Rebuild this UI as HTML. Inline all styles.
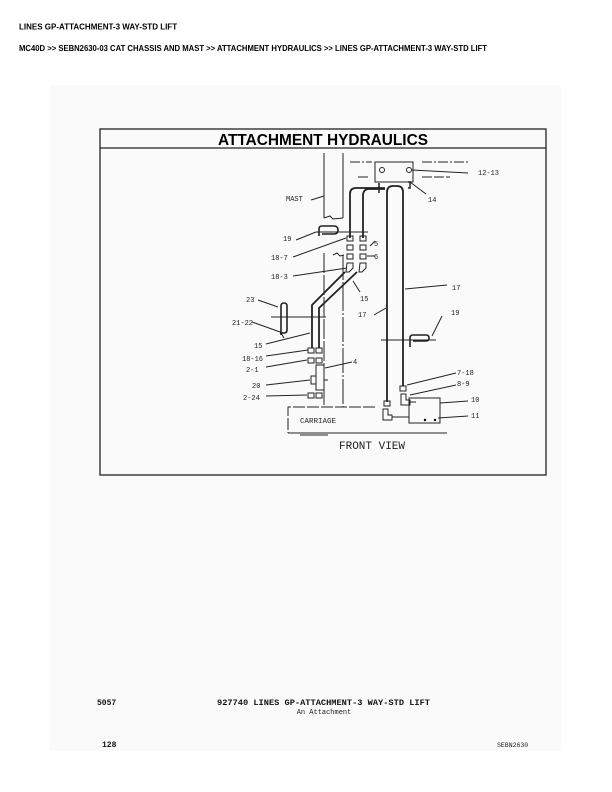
<!DOCTYPE html>
<html><head><meta charset="utf-8"><style>
html,body{margin:0;padding:0;background:#fff;width:612px;height:792px;overflow:hidden}
svg{display:block}
</style></head><body>
<svg width="612" height="792" viewBox="0 0 612 792" xmlns="http://www.w3.org/2000/svg">
<g font-family="Liberation Sans, Arial, sans-serif" font-weight="bold" font-size="8" fill="#000">
<text x="19" y="29.5">LINES GP-ATTACHMENT-3 WAY-STD LIFT</text>
<text x="19" y="51" textLength="468" lengthAdjust="spacingAndGlyphs">MC40D &gt;&gt; SEBN2630-03 CAT CHASSIS AND MAST &gt;&gt; ATTACHMENT HYDRAULICS &gt;&gt; LINES GP-ATTACHMENT-3 WAY-STD LIFT</text>
</g>
<rect x="50" y="85" width="511" height="666" fill="#fafafa"/>
<g fill="none" stroke="#222" stroke-width="1.3">
<rect x="100" y="129" width="446" height="346"/>
<line x1="100" y1="148" x2="546" y2="148"/>
</g>
<text x="323" y="145" font-family="Liberation Sans, Arial, sans-serif" font-weight="bold" font-size="16" text-anchor="middle" textLength="210" lengthAdjust="spacingAndGlyphs">ATTACHMENT HYDRAULICS</text>
<g fill="none" stroke="#222" stroke-width="1">
<!-- mast -->
<line x1="324" y1="153" x2="324" y2="218"/><line x1="343" y1="153" x2="343" y2="218"/>
<path d="M324 218 l6 -2 l3 3 l10 -1"/>
<line x1="324" y1="253" x2="324" y2="407" stroke-dasharray="20 2"/><line x1="343" y1="255" x2="343" y2="407" stroke-dasharray="25 2 2 2"/>
<path d="M333 255 l4 -2 l3 3 l4 -1"/>
<line x1="350" y1="162" x2="372" y2="162" stroke-dasharray="10 2 2 2"/>
<line x1="422" y1="162" x2="470" y2="162" stroke-dasharray="10 2 2 2"/>
<line x1="358" y1="177" x2="368" y2="177"/><line x1="422" y1="177" x2="450" y2="177" stroke-dasharray="10 2"/>
<!-- bracket -->
<rect x="375" y="162" width="38" height="20"/>
<circle cx="382" cy="170" r="2.5"/><circle cx="409" cy="170" r="2.5"/>
<line x1="412" y1="170" x2="468" y2="173"/>
<line x1="410" y1="182" x2="426" y2="194"/>
<path d="M408 182 l2 0 l0 6 l-2 0" stroke-width="1.5"/>
<!-- hoses -->
<g stroke-width="1.8">
<path d="M350 238 V194 Q350 188 356 188 H385"/>
<path d="M363 238 V196 Q363 189 369 189 H385"/>
<path d="M387 402 V192 Q387 186 393 186 H397 Q403 186 403 192 V386"/>
<path d="M345 272 L312 305 V348"/>
<path d="M357 272 L319 308 V348"/>
</g>
<line x1="379" y1="183" x2="379" y2="193" stroke-width="1.5"/>
<!-- fittings -->
<rect x="347" y="236" width="6" height="5"/><rect x="360" y="236" width="6" height="5"/>
<rect x="347" y="245" width="6" height="5"/><rect x="360" y="245" width="6" height="5"/>
<rect x="347" y="254" width="6" height="5"/><rect x="360" y="254" width="6" height="5"/>
<path d="M347 263 h6 v5 l-4 4 h-3 z"/><path d="M360 263 h6 v5 l-4 4 h-3 z"/>
<rect x="308" y="348" width="6" height="5"/><rect x="316" y="348" width="6" height="5"/>
<rect x="308" y="358" width="6" height="5"/><rect x="316" y="358" width="6" height="5"/>
<rect x="316" y="365" width="8" height="25"/>
<rect x="311" y="376" width="5" height="8"/><line x1="324" y1="380" x2="328" y2="380"/>
<rect x="308" y="393" width="6" height="5"/><rect x="316" y="393" width="6" height="5"/>
<!-- clips -->
<line x1="316" y1="232" x2="368" y2="232"/>
<path d="M319 236 V229 Q319 226 322 226 H334 Q338 226 338 230 Q338 234 334 234 H322" stroke-width="1.6"/>
<line x1="271" y1="317" x2="326" y2="317"/>
<path d="M281 335 V306 Q281 303 284 303 Q287 303 287 306 V330 Q287 333 284 333 H280" stroke-width="1.6"/>
<line x1="281" y1="333" x2="284" y2="338"/>
<line x1="381" y1="340" x2="436" y2="340"/>
<path d="M410 347 V338 Q410 335 413 335 H426 Q429 335 429 338 Q429 341 426 341 H413" stroke-width="1.6"/>
<!-- bottom fittings -->
<rect x="400" y="386" width="6" height="5"/>
<rect x="384" y="401" width="6" height="5"/>
<path d="M401 394 h5 v6 h4 v5 h-9 z"/>
<path d="M383 409 h5 v6 h4 v5 h-9 z"/>
<line x1="410" y1="402" x2="416" y2="402"/><line x1="392" y1="417" x2="409" y2="417"/>
<rect x="409" y="398" width="31" height="25"/>
<!-- carriage -->
<path d="M375 407 H288 V433" stroke-dasharray="12 2"/>
<line x1="288" y1="433" x2="447" y2="433"/>
<line x1="300" y1="435" x2="328" y2="435"/>
<!-- leaders -->
<line x1="311" y1="200" x2="324" y2="196"/>
<line x1="296" y1="240" x2="316" y2="232"/>
<line x1="293" y1="257" x2="346" y2="238"/>
<line x1="370" y1="246" x2="375" y2="241"/><line x1="367" y1="256" x2="375" y2="256"/>
<line x1="293" y1="276" x2="347" y2="268"/>
<line x1="353" y1="281" x2="360" y2="292"/>
<line x1="405" y1="289" x2="447" y2="285"/>
<line x1="374" y1="315" x2="386" y2="308"/>
<line x1="442" y1="316" x2="432" y2="336"/>
<line x1="258" y1="300" x2="278" y2="307"/>
<line x1="252" y1="322" x2="283" y2="333"/>
<line x1="266" y1="344" x2="310" y2="333"/>
<line x1="266" y1="356" x2="308" y2="350"/>
<line x1="266" y1="367" x2="307" y2="360"/>
<line x1="325" y1="368" x2="352" y2="362"/>
<line x1="266" y1="385" x2="310" y2="380"/>
<line x1="266" y1="396" x2="307" y2="395"/>
<line x1="407" y1="385" x2="456" y2="373"/>
<line x1="410" y1="395" x2="456" y2="385"/>
<line x1="440" y1="403" x2="468" y2="401"/>
<line x1="438" y1="418" x2="468" y2="416"/>
</g>
<circle cx="425" cy="420" r="1.2"/><circle cx="435" cy="420" r="1.2"/>
<g font-family="Liberation Mono, DejaVu Sans Mono, monospace" font-size="7" fill="#222">
<text x="478" y="175">12-13</text>
<text x="428" y="202">14</text>
<text x="286" y="201">MAST</text>
<text x="283" y="241">19</text>
<text x="271" y="260">18-7</text>
<text x="374" y="246">5</text>
<text x="374" y="259">6</text>
<text x="271" y="279">18-3</text>
<text x="360" y="301">15</text>
<text x="452" y="290">17</text>
<text x="246" y="302">23</text>
<text x="232" y="325">21-22</text>
<text x="358" y="317">17</text>
<text x="451" y="315">19</text>
<text x="254" y="348">15</text>
<text x="242" y="361">18-16</text>
<text x="246" y="372">2-1</text>
<text x="353" y="364">4</text>
<text x="252" y="388">20</text>
<text x="243" y="400">2-24</text>
<text x="457" y="375">7-18</text>
<text x="457" y="386">8-9</text>
<text x="471" y="402">10</text>
<text x="471" y="418">11</text>
<text x="300" y="423" font-size="7.5">CARRIAGE</text>
<text x="339" y="449" font-size="11">FRONT VIEW</text>
</g>
<g font-family="Liberation Mono, DejaVu Sans Mono, monospace" font-weight="bold" font-size="8" fill="#111">
<text x="97" y="705">5057</text>
<text x="217" y="705" textLength="213" lengthAdjust="spacingAndGlyphs">927740 LINES GP-ATTACHMENT-3 WAY-STD LIFT</text>
<text x="102" y="747">128</text>
</g>
<g font-family="Liberation Mono, DejaVu Sans Mono, monospace" font-size="7" fill="#222">
<text x="324" y="714" text-anchor="middle">An Attachment</text>
<text x="497" y="747" font-size="6.5">SEBN2630</text>
</g>
</svg>
</body></html>
